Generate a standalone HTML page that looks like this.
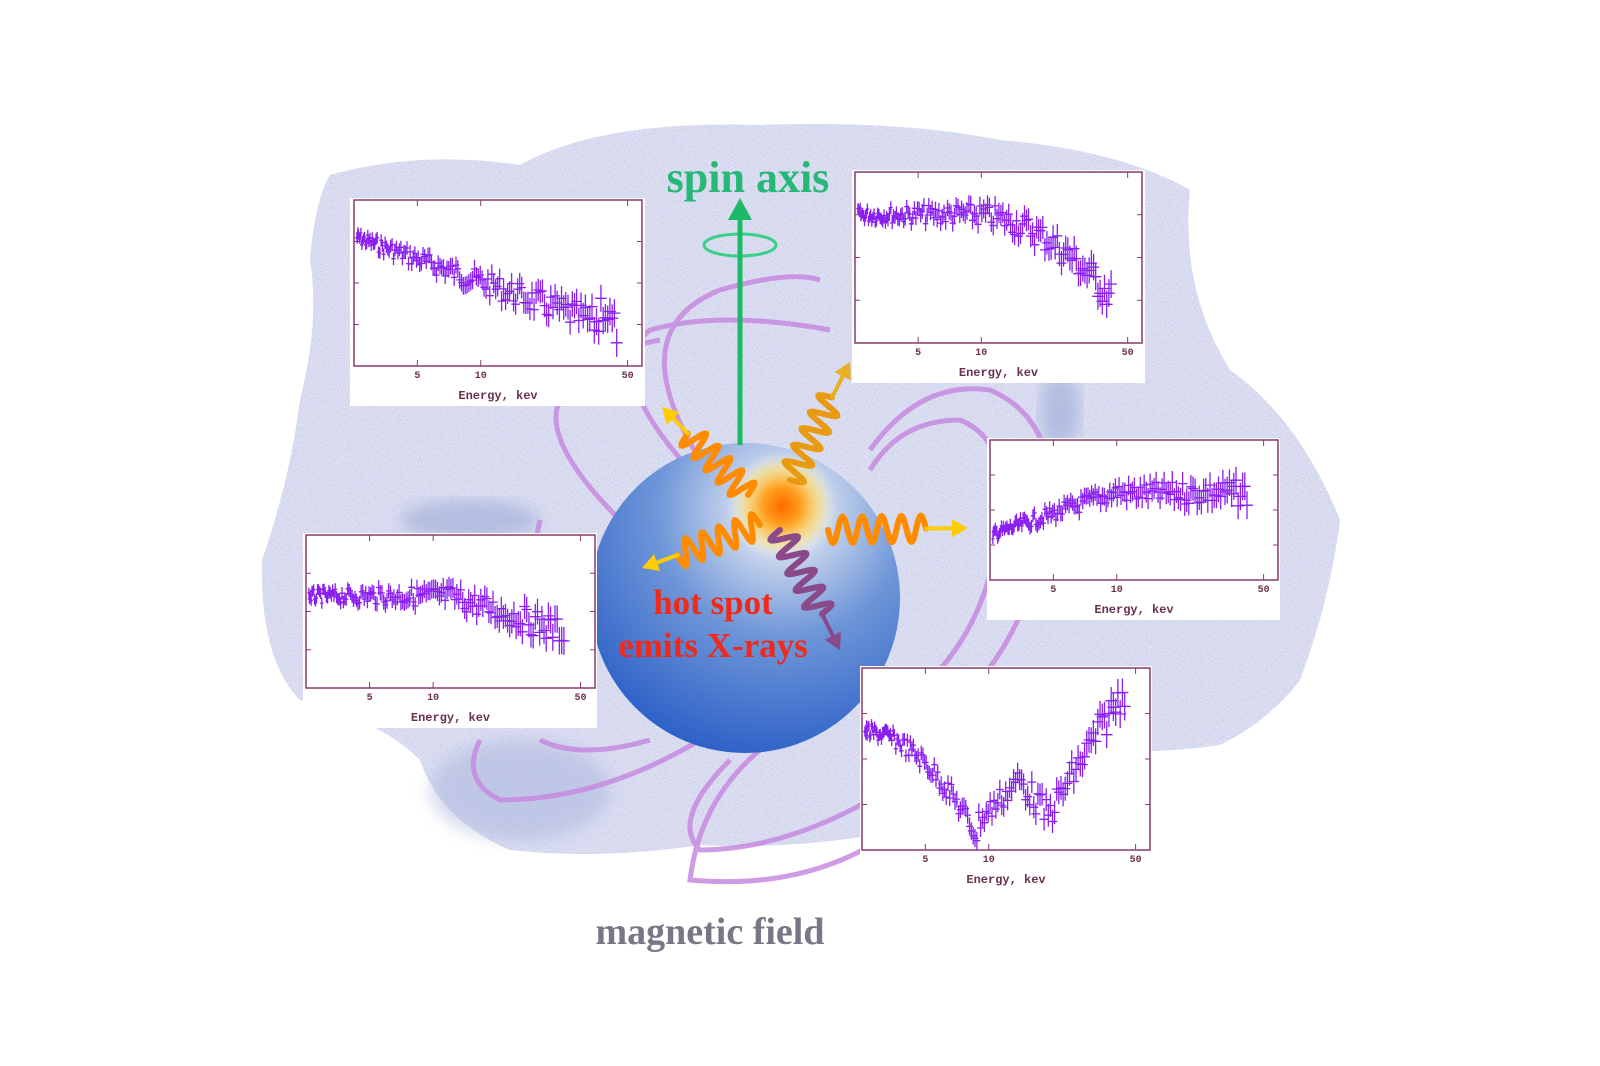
<!DOCTYPE html>
<html><head><meta charset="utf-8"><style>
html,body{margin:0;padding:0;background:#fff;width:1600px;height:1066px;overflow:hidden}
svg{display:block}
</style></head><body>
<svg id="s" width="1600" height="1066" viewBox="0 0 1600 1066" xmlns="http://www.w3.org/2000/svg">
<defs>
<filter id="noise" x="0" y="0" width="100%" height="100%">
<feTurbulence type="fractalNoise" baseFrequency="1.2" numOctaves="2" seed="3" result="n"/>
<feColorMatrix in="n" type="matrix" values="0 0 0 0 0.6  0 0 0 0 0.62  0 0 0 0 0.85  0 0 0 3 -1.3" result="c"/>
<feComposite in="c" in2="SourceGraphic" operator="in" result="t"/>
<feTurbulence type="fractalNoise" baseFrequency="1.4" numOctaves="1" seed="9" result="n2"/>
<feColorMatrix in="n2" type="matrix" values="0 0 0 0 1  0 0 0 0 1  0 0 0 0 1  0 0 0 3 -1.4" result="w"/>
<feComposite in="w" in2="SourceGraphic" operator="in" result="tw"/>
<feMerge><feMergeNode in="SourceGraphic"/><feMergeNode in="t"/><feMergeNode in="tw"/></feMerge>
</filter>
<filter id="blur6"><feGaussianBlur stdDeviation="8"/></filter>
<radialGradient id="sph" cx="0.62" cy="0.22" r="0.9">
<stop offset="0" stop-color="#fff7d0"/>
<stop offset="0.12" stop-color="#d8e0f0"/>
<stop offset="0.45" stop-color="#6e96d8"/>
<stop offset="1" stop-color="#1f55c4"/>
</radialGradient>
<radialGradient id="hot" cx="0.5" cy="0.5" r="0.5">
<stop offset="0" stop-color="#ff6a00"/>
<stop offset="0.35" stop-color="#ffa020"/>
<stop offset="0.7" stop-color="#ffe070" stop-opacity="0.6"/>
<stop offset="1" stop-color="#ffffff" stop-opacity="0"/>
</radialGradient>
</defs>
<path d="M330,175 Q420,150 520,165 Q600,120 760,125 Q900,120 1000,140 Q1120,150 1190,190 Q1180,290 1230,370 Q1300,420 1340,520 Q1330,600 1300,680 Q1270,720 1220,745 Q1120,760 1000,740 Q960,790 900,830 Q800,850 700,845 Q600,860 510,850 Q440,820 420,760 Q380,720 300,700 Q260,660 262,560 Q290,480 300,400 Q320,320 310,260 Q315,200 330,175 Z" fill="#d0d4ec" filter="url(#noise)"/>
<ellipse cx="470" cy="520" rx="70" ry="20" fill="#8ea0d0" opacity="0.5" filter="url(#blur6)"/>
<ellipse cx="1060" cy="410" rx="20" ry="40" fill="#8ea0d0" opacity="0.5" filter="url(#blur6)"/>
<ellipse cx="520" cy="790" rx="90" ry="50" fill="#a8b4dc" opacity="0.5" filter="url(#blur6)"/>
<g fill="none" stroke="#c78ae0" stroke-width="5" opacity="0.85">
<path d="M700,460 Q620,330 720,290 Q790,270 820,280"/>
<path d="M690,470 Q600,370 650,330 Q720,310 830,330"/>
<path d="M620,520 Q540,440 560,400 Q600,350 660,340"/>
<path d="M870,470 Q900,420 960,420 Q1010,440 1000,520 Q990,620 930,680"/>
<path d="M870,450 Q920,380 990,390 Q1060,420 1050,520 Q1030,620 980,680"/>
<path d="M610,650 Q520,600 540,520"/>
<path d="M700,740 Q600,800 500,800 Q460,780 480,740"/>
<path d="M650,740 Q580,760 540,740"/>
<path d="M760,750 Q700,800 690,880 Q800,890 880,840"/>
<path d="M730,760 Q670,820 700,850 Q780,850 870,800"/>
</g>
<circle cx="745" cy="598" r="155" fill="url(#sph)"/>
<circle cx="782" cy="506" r="55" fill="url(#hot)"/>
<ellipse cx="740" cy="245" rx="36" ry="11" fill="none" stroke="#3ad08a" stroke-width="3"/>
<line x1="740" y1="445" x2="740" y2="218" stroke="#1db868" stroke-width="5"/>
<path d="M728,220 L740,198 L752,220 Z" fill="#1db868"/>
<g fill="none" stroke-width="6" stroke-linecap="round" id="wig"></g>
<text x="748" y="192" text-anchor="middle" font-family="Liberation Serif,serif" font-weight="bold" font-size="44" fill="#27b877">spin axis</text>
<text x="713" y="614" text-anchor="middle" font-family="Liberation Serif,serif" font-weight="bold" font-size="35" fill="#ee2a1a">hot spot</text>
<text x="713" y="657" text-anchor="middle" font-family="Liberation Serif,serif" font-weight="bold" font-size="35" fill="#ee2a1a">emits X-rays</text>
<text x="710" y="944" text-anchor="middle" font-family="Liberation Serif,serif" font-weight="bold" font-size="38" fill="#777788">magnetic field</text>
<g id="plots"></g>
</svg>
<script>
var NS="http://www.w3.org/2000/svg";
function el(t,a,p){var e=document.createElementNS(NS,t);for(var k in a)e.setAttribute(k,a[k]);p.appendChild(e);return e;}
var wg=document.getElementById('wig');
function wiggle(x0,y0,x1,y1,col,n,amp,arrow){
 var dx=x1-x0,dy=y1-y0,L=Math.hypot(dx,dy),ux=dx/L,uy=dy/L,px=-uy,py=ux;
 var d="M"+x0+","+y0,wl=L*0.7,steps=120;
 for(var i=1;i<=steps;i++){var s=i/steps*wl,a=amp*Math.sin(s/wl*n*2*Math.PI);d+=" L"+(x0+ux*s+px*a).toFixed(1)+","+(y0+uy*s+py*a).toFixed(1);}
 el('path',{d:d,stroke:col},wg);
 var sx=x0+ux*wl,sy=y0+uy*wl;
 el('line',{x1:sx,y1:sy,x2:x1-ux*10,y2:y1-uy*10,stroke:arrow,'stroke-width':4},wg);
 el('path',{d:"M"+(x1)+","+(y1)+" L"+(x1-ux*16+px*9)+","+(y1-uy*16+py*9)+" L"+(x1-ux*16-px*9)+","+(y1-uy*16-py*9)+"Z",fill:arrow,stroke:'none'},wg);
}
wiggle(748,495,662,407,'#ff8c00',5,13,'#ffcc00');
wiggle(790,480,850,362,'#e89a10',5,13,'#e8b020');
wiggle(760,525,642,568,'#ff8c00',5,13,'#ffcc00');
wiggle(828,530,968,528,'#ff8c00',5,13,'#ffcc00');
wiggle(780,530,840,650,'#8a4a8a',5,13,'#8a4a8a');
var P=document.getElementById('plots');
var seed=7;function rnd(){seed=(seed*9301+49297)%233280;return seed/233280;}
function plot(bx,by,bw,bh,fx,fy,fw,fh,f,tmax){
 el('rect',{x:bx,y:by,width:bw,height:bh,fill:'#fff'},P);
 el('rect',{x:fx,y:fy,width:fw,height:fh,fill:'none',stroke:'#8a3a6a','stroke-width':1.5},P);
 var ticks=[[0.22,'5'],[0.44,'10'],[0.95,'50']];
 ticks.forEach(function(t){var x=fx+fw*t[0];
  el('line',{x1:x,y1:fy,x2:x,y2:fy+6,stroke:'#8a3a6a'},P);
  el('line',{x1:x,y1:fy+fh,x2:x,y2:fy+fh-6,stroke:'#8a3a6a'},P);
  var tx=el('text',{x:x,y:fy+fh+12,'text-anchor':'middle','font-family':'Liberation Mono,monospace','font-size':10,'font-weight':'bold',fill:'#6a3050'},P);tx.textContent=t[1];});
 for(var k=1;k<4;k++){var y=fy+fh*k/4;el('line',{x1:fx,y1:y,x2:fx+5,y2:y,stroke:'#8a3a6a'},P);el('line',{x1:fx+fw,y1:y,x2:fx+fw-5,y2:y,stroke:'#8a3a6a'},P);}
 var tt=el('text',{x:fx+fw/2,y:fy+fh+33,'text-anchor':'middle','font-family':'Liberation Mono,monospace','font-size':12,'font-weight':'bold',fill:'#6a3050'},P);tt.textContent='Energy, kev';
 var d="",N=150;tmax=tmax||0.9;
 for(var i=0;i<N;i++){var t=0.01+(tmax-0.01)*Math.pow(i/N,1.3);var y=f(t)+(rnd()-0.5)*0.12*(0.7+t);
  var x=fx+fw*t,yy=fy+fh*y,e=5+t*10,hw=1.5+t*5;
  d+="M"+x.toFixed(1)+","+(yy-e).toFixed(1)+"v"+(2*e).toFixed(1)+"M"+(x-hw).toFixed(1)+","+yy.toFixed(1)+"h"+(2*hw).toFixed(1);}
 el('path',{d:d,stroke:'#8a1ef0','stroke-width':1.3,fill:'none'},P);
}
plot(350,198,295,208,354,200,288,166,function(t){return t>0.85?0.6+ (t-0.85)*3:0.22+0.62*t;},0.92);
plot(852,170,293,213,855,172,287,171,function(t){return t<0.4?0.25:0.25+1.0*(t-0.4)*(t-0.4)*2;},0.9);
plot(987,438,293,182,990,440,288,140,function(t){return t<0.45?0.68-0.7*t:0.38;},0.9);
plot(303,533,294,195,306,535,289,153,function(t){return t<0.5?0.4:0.4+0.6*(t-0.5);},0.9);
plot(860,666,292,224,862,668,288,182,function(t){if(t<0.4)return 0.35+1.2*t*t*3;if(t<0.55)return 0.85-(t-0.4)*1.6;if(t<0.65)return 0.62+(t-0.55)*2;return 0.8-(t-0.65)*2.6;},0.92);
</script>
</body></html>
